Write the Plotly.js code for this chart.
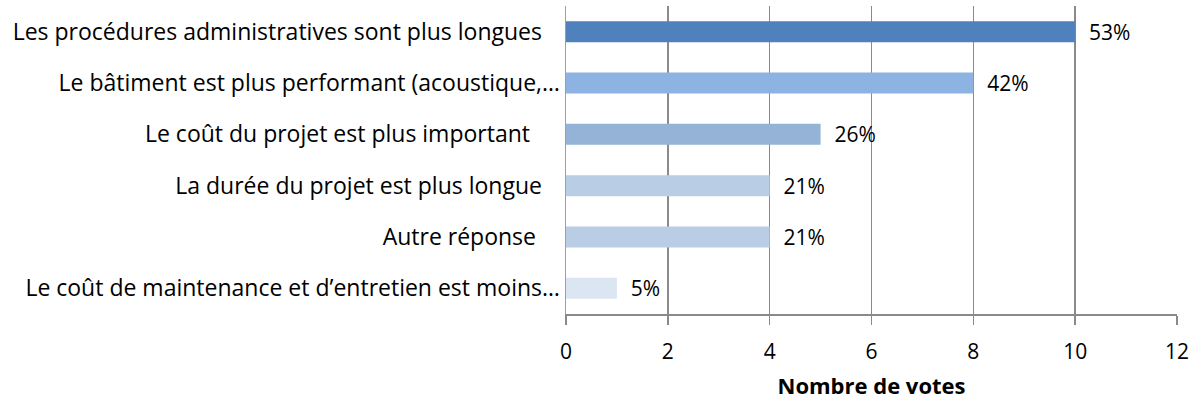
<!DOCTYPE html>
<html>
<head>
<meta charset="utf-8">
<script src="https://cdn.plot.ly/plotly-3.0.1.min.js"></script>
<style>html,body{margin:0;padding:0;background:#fff;}#chart{width:1199px;height:400px;}</style>
</head>
<body>
<div id="chart"></div>
<script>
var categories = [
  "Les procédures administratives sont plus longues\u00a0\u00a0\u00a0",
  "Le bâtiment est plus performant (acoustique,…",
  "Le coût du projet est plus important\u00a0\u00a0\u00a0\u00a0\u00a0",
  "La durée du projet est plus longue\u00a0\u00a0\u00a0",
  "Autre réponse\u00a0\u00a0\u00a0\u00a0",
  "Le coût de maintenance et d’entretien est moins…"
];
var votes = [10, 8, 5, 4, 4, 1];
var percentLabels = ["53%", "42%", "26%", "21%", "21%", "5%"];
var barColors = ["#4F81BD", "#8DB3E2", "#95B3D7", "#B9CDE5", "#B9CDE5", "#DCE6F2"];
var xTicks = [0, 2, 4, 6, 8, 10, 12];

var font = "'Open Sans', Carlito, Calibri, sans-serif";

Plotly.newPlot("chart", [{
  type: "bar",
  orientation: "h",
  y: categories,
  x: votes,
  text: percentLabels.map(function (s) { return "\u00a0\u00a0" + s; }),
  textposition: "outside",
  constraintext: "none",
  cliponaxis: false,
  textfont: {family: font, size: 21, color: "#000"},
  marker: {color: barColors},
  hoverinfo: "none"
}], {
  width: 1199, height: 400,
  margin: {l: 566, r: 22, t: 6, b: 86},
  paper_bgcolor: "#fff", plot_bgcolor: "#fff",
  bargap: 0.59,
  showlegend: false,
  font: {family: font, size: 21, color: "#000"},
  xaxis: {
    range: [0, 12],
    tickvals: xTicks,
    ticktext: xTicks.map(String),
    showgrid: true, gridcolor: "#8a8a8a", gridwidth: 1.5,
    zeroline: false,
    showline: true, linecolor: "#8a8a8a", linewidth: 1.5,
    ticks: "outside", ticklen: 9, tickcolor: "#8a8a8a", tickwidth: 1.5,
    ticklabelstandoff: 9,
    tickfont: {family: font, size: 21, color: "#000"},
    title: {text: "<b>Nombre de votes</b>", font: {family: font, size: 22, color: "#000"}, standoff: 17}
  },
  yaxis: {
    autorange: "reversed",
    showgrid: false, zeroline: false,
    showline: true, linecolor: "#a0a0a0", linewidth: 1.5,
    ticks: "", ticklabelstandoff: 0,
    tickfont: {family: font, size: 23, color: "#000"}
  }
}, {staticPlot: true});
</script>
</body>
</html>
